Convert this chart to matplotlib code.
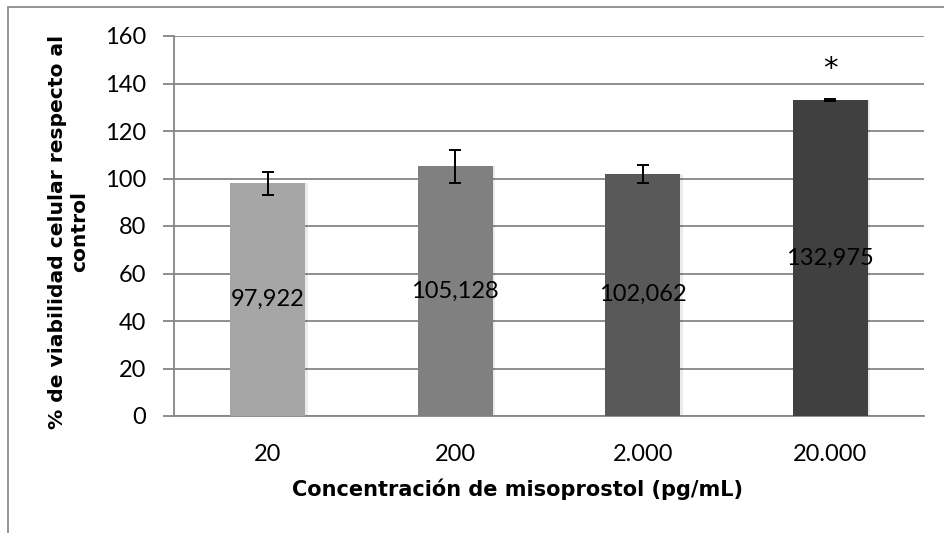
import matplotlib
matplotlib.use("Agg")
import matplotlib.pyplot as plt
from matplotlib.patches import Rectangle
import numpy as np

categories = ["20", "200", "2.000", "20.000"]
values = [97.922, 105.128, 102.062, 132.975]
errors = [4.8, 7.0, 3.8, 0.5]
value_labels = ["97,922", "105,128", "102,062", "132,975"]
bar_colors = ["#A6A6A6", "#808080", "#595959", "#404040"]
yticks = [0, 20, 40, 60, 80, 100, 120, 140, 160]
signif = ["", "", "", "*"]

W, H = 944, 533
fig = plt.figure(figsize=(W / 100, H / 100), dpi=100)
ax = fig.add_axes([174 / W, 1 - 416 / H, 750 / W, 380 / H])

x = np.arange(len(categories))
# soft shadow
for xi, v in zip(x, values):
    ax.bar(xi + 0.012, v, width=0.4, color="#000000", alpha=0.08, zorder=2)
bars = ax.bar(x, values, width=0.4, color=bar_colors, zorder=3)
ax.errorbar(x, values, yerr=errors, fmt="none", ecolor="black",
            elinewidth=1.4, capsize=4.5, capthick=1.4, zorder=4)

for xi, v, lab in zip(x, values, value_labels):
    ax.text(xi, v / 2, lab, ha="center", va="center", fontsize=17,
            family="Lato", color="black", zorder=5)
for xi, v, e, s in zip(x, values, errors, signif):
    if s:
        ax.text(xi, 146, s, ha="center", va="center", fontsize=21,
                family="DejaVu Sans", color="black", zorder=5)

ax.set_xlim(-0.5, len(categories) - 0.5)
ax.set_ylim(0, 160)
ax.set_yticks(yticks)
ax.set_yticklabels([str(t) for t in yticks], family="Lato", fontsize=17)
ax.set_xticks(x)
ax.set_xticklabels(categories, family="Lato", fontsize=17)
ax.tick_params(axis="x", length=0, pad=20)
ax.tick_params(axis="y", length=8, width=1.3, color="#868686", pad=12)

ax.yaxis.grid(True, color="#868686", linewidth=1.3, zorder=0)
ax.set_axisbelow(True)
for s in ["top", "right"]:
    ax.spines[s].set_visible(False)
for s in ["left", "bottom"]:
    ax.spines[s].set_color("#868686")
    ax.spines[s].set_linewidth(1.3)

ax.set_xlabel("Concentración de misoprostol (pg/mL)", fontsize=15,
              fontweight="bold", family="DejaVu Sans")
ax.xaxis.set_label_coords((517 - 174) / 750, (416 - 478) / 380)
ax.set_ylabel("% de viabilidad celular respecto al\ncontrol", fontsize=14.6,
              fontweight="bold", family="DejaVu Sans", linespacing=1.2)
ax.yaxis.set_label_coords((89 - 174) / 750, 0.5 - (232 - 226) / 380)

border = Rectangle((8 / W, -0.5), 2.0, 1.5 - 7 / H, transform=fig.transFigure,
                   fill=False, edgecolor="#8C8C8C", linewidth=1.3)
fig.patches.append(border)

fig.savefig("out.png", dpi=100)
